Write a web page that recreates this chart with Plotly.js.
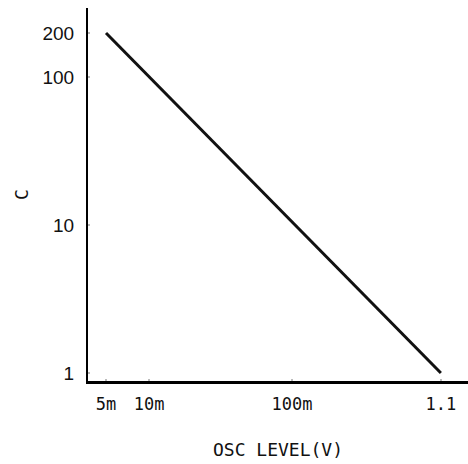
<!DOCTYPE html>
<html>
<head>
<script src="https://cdn.plot.ly/plotly-3.0.1.min.js"></script>
<style>html,body{margin:0;padding:0;background:#fff;}#chart{width:468px;height:464px;}</style>
</head>
<body>
<div id="chart"></div>
<script>
const oscLevel = [0.005, 1.1];
const cValues = [200, 1];
const xTickVals = [0.005, 0.01, 0.1, 1.1];
const xTickText = ["5m", "10m", "100m", "1.1"];
const yTickVals = [1, 10, 100, 200];
const yTickText = ["1", "10", "100", "200"];

const trace = {
  x: oscLevel, y: cValues, type: 'scatter', mode: 'lines',
  line: {color: '#111', width: 3}, hoverinfo: 'none', showlegend: false
};
const layout = {
  width: 468, height: 464,
  margin: {l: 88, r: 0, t: 8, b: 83},
  paper_bgcolor: '#fff', plot_bgcolor: '#fff',
  xaxis: {
    type: 'log', range: [-2.427, 0.231],
    tickvals: xTickVals, ticktext: xTickText,
    showgrid: false, zeroline: false,
    showline: true, linecolor: '#000', linewidth: 3,
    ticks: 'inside', ticklen: 2, tickwidth: 2, tickcolor: '#bbb',
    ticklabelstandoff: 6,
    tickfont: {family: 'DejaVu Sans Mono', size: 17, color: '#111'},
    title: {text: 'OSC LEVEL(V)', standoff: 30, font: {family: 'DejaVu Sans Mono', size: 18, color: '#111'}}
  },
  yaxis: {
    type: 'log', range: [-0.054, 2.47],
    tickvals: yTickVals, ticktext: yTickText,
    showgrid: false, zeroline: false,
    showline: true, linecolor: '#000', linewidth: 2,
    ticks: 'inside', ticklen: 2, tickwidth: 2, tickcolor: '#bbb',
    ticklabelstandoff: 8,
    tickfont: {family: 'Liberation Sans', size: 19, color: '#111'},
    title: {text: 'C', standoff: 9, font: {family: 'DejaVu Sans Mono', size: 18, color: '#111'}}
  }
};
Plotly.newPlot('chart', [trace], layout, {staticPlot: true});
</script>
</body>
</html>
